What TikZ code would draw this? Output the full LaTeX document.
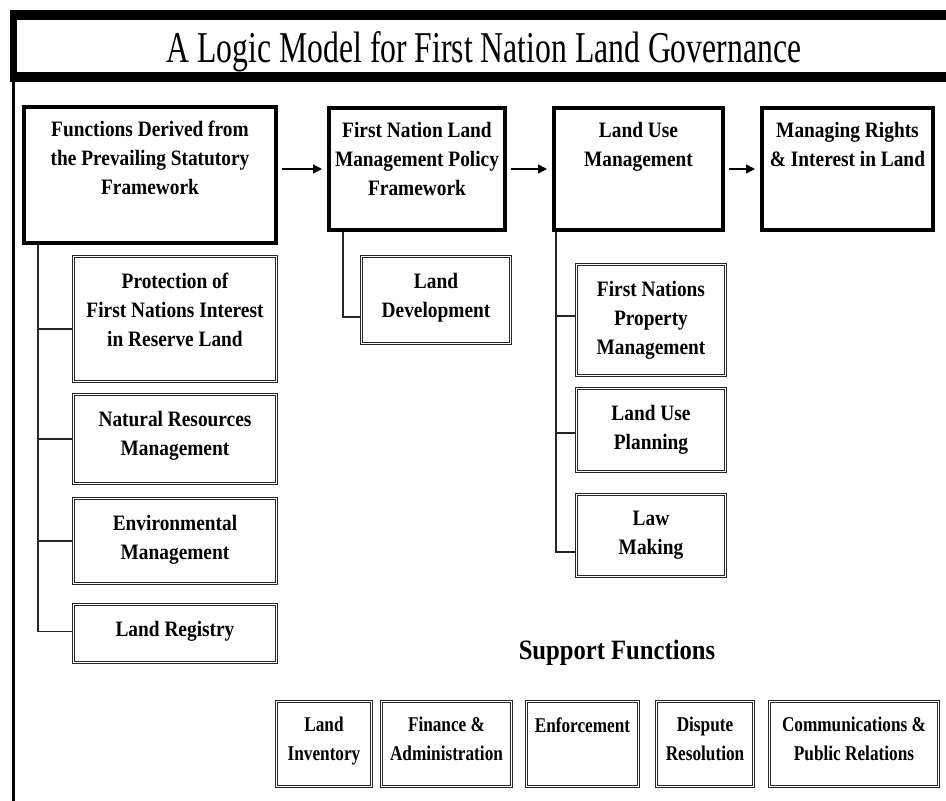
\documentclass[tikz,border=0pt]{standalone}
\usepackage{fontspec}
\setmainfont{Liberation Serif}
\newfontfamily\boxfont[FakeStretch=0.88]{Liberation Serif}
\newfontfamily\supfont[FakeStretch=0.82]{Liberation Serif}
\newfontfamily\titlefont[FakeStretch=0.72]{Liberation Serif}
\usetikzlibrary{positioning, arrows.meta, shadows}

\tikzset{
  mainbox/.style={draw=black, line width=4pt, fill=white},
  subbox/.style={draw=black!85, line width=0.8pt, double=white, double distance=1.4pt, fill=white,
    drop shadow={shadow xshift=-1.5pt, shadow yshift=-1.5pt, fill=black!45, opacity=1}},
  boxtext/.style={align=center, inner sep=0pt, font=\boxfont\bfseries\fontsize{22}{29}\selectfont},
  suptext/.style={align=center, inner sep=0pt, font=\supfont\bfseries\fontsize{21}{29}\selectfont},
  conn/.style={draw=black!85, line width=1.3pt},
  flow/.style={draw=black, line width=1.6pt, -{Triangle[length=9pt, width=9pt]}, shorten <=4pt, shorten >=5pt},
}

\begin{document}
\begin{tikzpicture}[x=1pt, y=-1pt]
  \useasboundingbox (0,0) rectangle (946,801);

  % Frame and title
  \fill (10,10) rectangle (946,20);
  \fill (10,72) rectangle (946,82);
  \fill (10,10) rectangle (17,82);
  \fill (12,82) rectangle (15,801);
  \node[font=\titlefont\fontsize{44}{50}\selectfont, inner sep=0pt] (title) at (484,51.5) {A Logic Model for First Nation Land Governance};

  % Main row
  \node[mainbox, minimum width=252pt, minimum height=136pt] (fnd) at (150,175) {};
  \node[boxtext, below=16pt of fnd.north] (fnd-t) {Functions Derived from\\the Prevailing Statutory\\Framework};

  \node[mainbox, minimum width=176pt, minimum height=122pt] (fnp) at (417,169) {};
  \node[boxtext, below=16pt of fnp.north] (fnp-t) {First Nation Land\\Management Policy\\Framework};

  \node[mainbox, minimum width=169pt, minimum height=122pt] (lum) at (638.5,169) {};
  \node[boxtext, below=16pt of lum.north] (lum-t) {Land Use\\Management};

  \node[mainbox, minimum width=171pt, minimum height=122pt] (mri) at (847.5,169) {};
  \node[boxtext, below=16pt of mri.north] (mri-t) {Managing Rights\\\& Interest in Land};

  \draw[flow] (fnd.east |- fnp) -- (fnp);
  \draw[flow] (fnp) -- (lum);
  \draw[flow] (lum) -- (mri);

  % Statutory functions
  \node[subbox, minimum width=203pt, minimum height=125pt] (prot) at (175,319) {};
  \node[boxtext, below=17pt of prot.north] (prot-t) {Protection of\\First Nations Interest\\in Reserve Land};

  \node[subbox, minimum width=203pt, minimum height=89pt] (natres) at (175,439) {};
  \node[boxtext, below=17pt of natres.north] (natres-t) {Natural Resources\\Management};

  \node[subbox, minimum width=203pt, minimum height=85pt] (env) at (175,541) {};
  \node[boxtext, below=17pt of env.north] (env-t) {Environmental\\Management};

  \node[subbox, minimum width=203pt, minimum height=58pt] (lreg) at (175,633.5) {};
  \node[boxtext, below=17pt of lreg.north] (lreg-t) {Land Registry};

  \draw[conn] ([xshift=16pt]fnd.south west) |- ([yshift=-10pt]prot.west);
  \draw[conn] ([xshift=16pt]fnd.south west) |- (natres.west);
  \draw[conn] ([xshift=16pt]fnd.south west) |- (env.west);
  \draw[conn] ([xshift=16pt]fnd.south west) |- ([yshift=2pt]lreg.west);

  % Policy framework
  \node[subbox, minimum width=149pt, minimum height=87pt] (ldev) at (436,300) {};
  \node[boxtext, below=17pt of ldev.north] (ldev-t) {Land\\Development};

  \draw[conn] ([xshift=16pt]fnp.south west) |- ([yshift=-17pt]ldev.west);

  % Land use
  \node[subbox, minimum width=149pt, minimum height=111pt] (fnpm) at (651,320) {};
  \node[boxtext, below=17pt of fnpm.north] (fnpm-t) {First Nations\\Property\\Management};

  \node[subbox, minimum width=149pt, minimum height=83pt] (lup) at (651,430) {};
  \node[boxtext, below=17pt of lup.north] (lup-t) {Land Use\\Planning};

  \node[subbox, minimum width=149pt, minimum height=82pt] (law) at (651,535.5) {};
  \node[boxtext, below=17pt of law.north] (law-t) {Law\\Making};

  \draw[conn] ([xshift=4pt]lum.south west) |- ([yshift=4pt]fnpm.west);
  \draw[conn] ([xshift=4pt]lum.south west) |- ([yshift=-3pt]lup.west);
  \draw[conn] ([xshift=4pt]lum.south west) |- ([yshift=-16.5pt]law.west);

  % Support functions
  \node[font=\boxfont\bfseries\fontsize{28}{34}\selectfont, inner sep=0pt] (support) at (617,653) {Support Functions};

  \node[subbox, minimum width=95pt, minimum height=85pt] (linv) at (324,744) {};
  \node[suptext, below=16pt of linv.north] (linv-t) {Land\\Inventory};

  \node[subbox, minimum width=130pt, minimum height=85pt] (fin) at (446.5,744) {};
  \node[suptext, below=16pt of fin.north] (fin-t) {Finance \&\\Administration};

  \node[subbox, minimum width=112pt, minimum height=85pt] (enf) at (582.5,744) {};
  \node[suptext, below=16pt of enf.north] (enf-t) {Enforcement};

  \node[subbox, minimum width=97pt, minimum height=85pt] (disp) at (705,744) {};
  \node[suptext, below=16pt of disp.north] (disp-t) {Dispute\\Resolution};

  \node[subbox, minimum width=169pt, minimum height=85pt] (comm) at (854,744) {};
  \node[suptext, below=16pt of comm.north] (comm-t) {Communications \&\\Public Relations};
\end{tikzpicture}
\end{document}
